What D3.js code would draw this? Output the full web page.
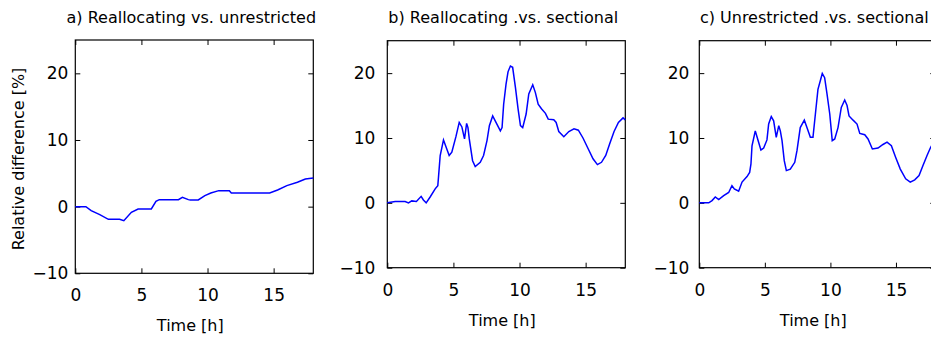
<!DOCTYPE html>
<html>
<head>
<meta charset="utf-8">
<script src="https://cdn.jsdelivr.net/npm/d3@7/dist/d3.min.js"></script>
<style>
    html, body { margin: 0; padding: 0; background: #fff; }
    svg { display: block; }
    .tick text { font-family: "DejaVu Sans", sans-serif; font-size: 17px; fill: #000; }
    .domain { display: none; }
    .tick line { stroke: #000; stroke-width: 1; }
</style>
</head>
<body>
<svg id="chart" width="931" height="340"></svg>
<script>
// Axis ticks shared by all panels
const xTicks = [0, 5, 10, 15];
const yTicks = [-10, 0, 10, 20];

const titles = [
    "a) Reallocating vs. unrestricted",
    "b) Reallocating .vs. sectional",
    "c) Unrestricted .vs. sectional"
];

// a) Reallocating vs. unrestricted
const timeA = [0, 0.8, 1.2, 1.85, 2.5, 3.35, 3.67, 4.24, 4.75, 5.75, 6.1, 6.35, 7.8, 8.1, 8.55, 8.7, 9.3, 9.8, 10.25, 10.85, 11.65, 11.8, 14.7, 15.3, 16.0, 16.8, 17.4, 18];
const diffA = [0, 0, -0.6, -1.2, -1.9, -1.9, -2.1, -0.85, -0.35, -0.35, 0.8, 1.05, 1.05, 1.4, 1.05, 1.0, 1.0, 1.65, 2.05, 2.4, 2.4, 2.05, 2.05, 2.5, 3.15, 3.65, 4.15, 4.3];

// b) Reallocating vs. sectional
const timeB = [0, 0.6, 1.35, 1.6, 1.85, 2.2, 2.56, 2.73, 2.94, 3.24, 3.62, 3.82, 3.87, 4.0, 4.25, 4.43, 4.68, 4.88, 5.19, 5.44, 5.64, 5.84, 6.0, 6.1, 6.2, 6.45, 6.65, 7.03, 7.28, 7.54, 7.72, 7.97, 8.22, 8.55, 8.68, 8.8, 8.98, 9.13, 9.31, 9.48, 9.69, 9.89, 10.07, 10.24, 10.5, 10.7, 11.0, 11.2, 11.41, 11.66, 11.96, 12.17, 12.59, 12.77, 12.97, 13.35, 13.73, 14.12, 14.45, 14.8, 15.2, 15.56, 15.89, 16.2, 16.52, 16.82, 17.15, 17.48, 17.83, 18];
const diffB = [0, 0.2, 0.2, 0, 0.3, 0.2, 1.0, 0.45, 0, 0.9, 2.15, 2.65, 3.9, 7.3, 9.7, 8.7, 7.3, 7.8, 10.2, 12.4, 11.7, 9.85, 12.25, 11.6, 9.85, 6.5, 5.6, 6.25, 7.3, 9.6, 11.9, 13.4, 12.4, 11.1, 11.6, 15.2, 18.3, 20.2, 21.1, 20.9, 17.8, 14.5, 11.9, 11.6, 13.7, 16.8, 18.2, 17.0, 15.2, 14.5, 13.8, 12.9, 12.8, 12.4, 11.0, 10.2, 11.0, 11.4, 11.2, 10.0, 8.3, 6.8, 5.9, 6.25, 7.3, 9.1, 11.0, 12.4, 13.1, 12.8];

// c) Unrestricted vs. sectional
const timeC = [0, 0.72, 0.97, 1.22, 1.48, 1.86, 2.24, 2.49, 2.67, 3.0, 3.26, 3.64, 3.84, 3.94, 4.02, 4.27, 4.45, 4.7, 4.91, 5.16, 5.29, 5.49, 5.67, 5.87, 6.06, 6.18, 6.31, 6.48, 6.64, 6.94, 7.28, 7.45, 7.7, 8.01, 8.21, 8.47, 8.67, 8.88, 9.05, 9.38, 9.56, 9.74, 9.95, 10.14, 10.33, 10.58, 10.83, 11.09, 11.27, 11.42, 11.73, 12.03, 12.24, 12.62, 12.87, 13.2, 13.63, 14.01, 14.32, 14.65, 14.98, 15.33, 15.74, 16.09, 16.43, 16.76, 17.06, 17.37, 17.62, 18];
const diffC = [0, 0, 0.35, 0.9, 0.5, 1.1, 1.6, 2.65, 2.15, 1.8, 3.2, 4.05, 4.7, 6.0, 8.8, 11.1, 9.85, 8.15, 8.45, 9.7, 12.15, 13.3, 12.65, 10.1, 11.9, 11.1, 9.6, 6.5, 4.97, 5.2, 6.25, 8.05, 11.6, 12.75, 11.6, 10.1, 10.1, 14.2, 17.5, 19.95, 19.3, 16.8, 13.7, 9.6, 9.85, 11.6, 14.7, 15.85, 15.0, 13.4, 12.75, 12.15, 10.7, 10.5, 9.85, 8.3, 8.45, 9.0, 9.35, 8.8, 7.0, 5.2, 3.7, 3.2, 3.55, 4.2, 5.75, 7.3, 8.45, 9.8];

// Panel boxes in page pixels
const panels = [
    { title: titles[0], t: timeA, v: diffA, left: 75.3, right: 313.3, top: 40, bottom: 273.3, labelPad: 7 },
    { title: titles[1], t: timeB, v: diffB, left: 387.3, right: 625.3, top: 40.7, bottom: 267.7, labelPad: 12 },
    { title: titles[2], t: timeC, v: diffC, left: 699.3, right: 935.3, top: 40.7, bottom: 267.7, labelPad: 10 }
];

const svg = d3.select("#chart");
const font = "DejaVu Sans, sans-serif";

panels.forEach((p) => {
    const x = d3.scaleLinear().domain([0, 18]).range([p.left, p.right]);
    const y = d3.scaleLinear().domain([-10, 25]).range([p.bottom, p.top]);
    const g = svg.append("g");

    // Inward ticks on all four sides, labels only bottom and left
    g.append("g")
        .attr("transform", `translate(0,${p.bottom})`)
        .call(d3.axisBottom(x).tickValues(xTicks).tickSize(-5).tickPadding(16).tickFormat(d3.format("d")));
    g.append("g")
        .attr("transform", `translate(0,${p.top})`)
        .call(d3.axisTop(x).tickValues(xTicks).tickSize(-5).tickFormat(""));
    g.append("g")
        .attr("transform", `translate(${p.left},0)`)
        .call(d3.axisLeft(y).tickValues(yTicks).tickSize(-5).tickPadding(p.labelPad).tickFormat(d3.format("d")));
    g.append("g")
        .attr("transform", `translate(${p.right},0)`)
        .call(d3.axisRight(y).tickValues(yTicks).tickSize(-5).tickFormat(""));

    // Frame
    g.append("rect")
        .attr("x", p.left)
        .attr("y", p.top)
        .attr("width", p.right - p.left)
        .attr("height", p.bottom - p.top)
        .attr("fill", "none")
        .attr("stroke", "#000")
        .attr("stroke-width", 1.2);

    // Data line
    const line = d3.line()
        .x((d, i) => x(p.t[i]))
        .y((d) => y(d));
    g.append("path")
        .datum(p.v)
        .attr("d", line)
        .attr("fill", "none")
        .attr("stroke", "#0000ff")
        .attr("stroke-width", 1.5);

    const cx = (p.left + p.right) / 2;

    g.append("text")
        .attr("x", cx - 3)
        .attr("y", 23)
        .attr("text-anchor", "middle")
        .style("font-family", font)
        .style("font-size", "16px")
        .text(p.title);

    g.append("text")
        .attr("x", cx - 4)
        .attr("y", p.bottom + 58)
        .attr("text-anchor", "middle")
        .style("font-family", font)
        .style("font-size", "16px")
        .text("Time [h]");
});

// Shared y label on the first panel
svg.append("text")
    .attr("transform", "translate(24,159) rotate(-90)")
    .attr("text-anchor", "middle")
    .style("font-family", font)
    .style("font-size", "16px")
    .text("Relative difference [%]");
</script>
</body>
</html>
